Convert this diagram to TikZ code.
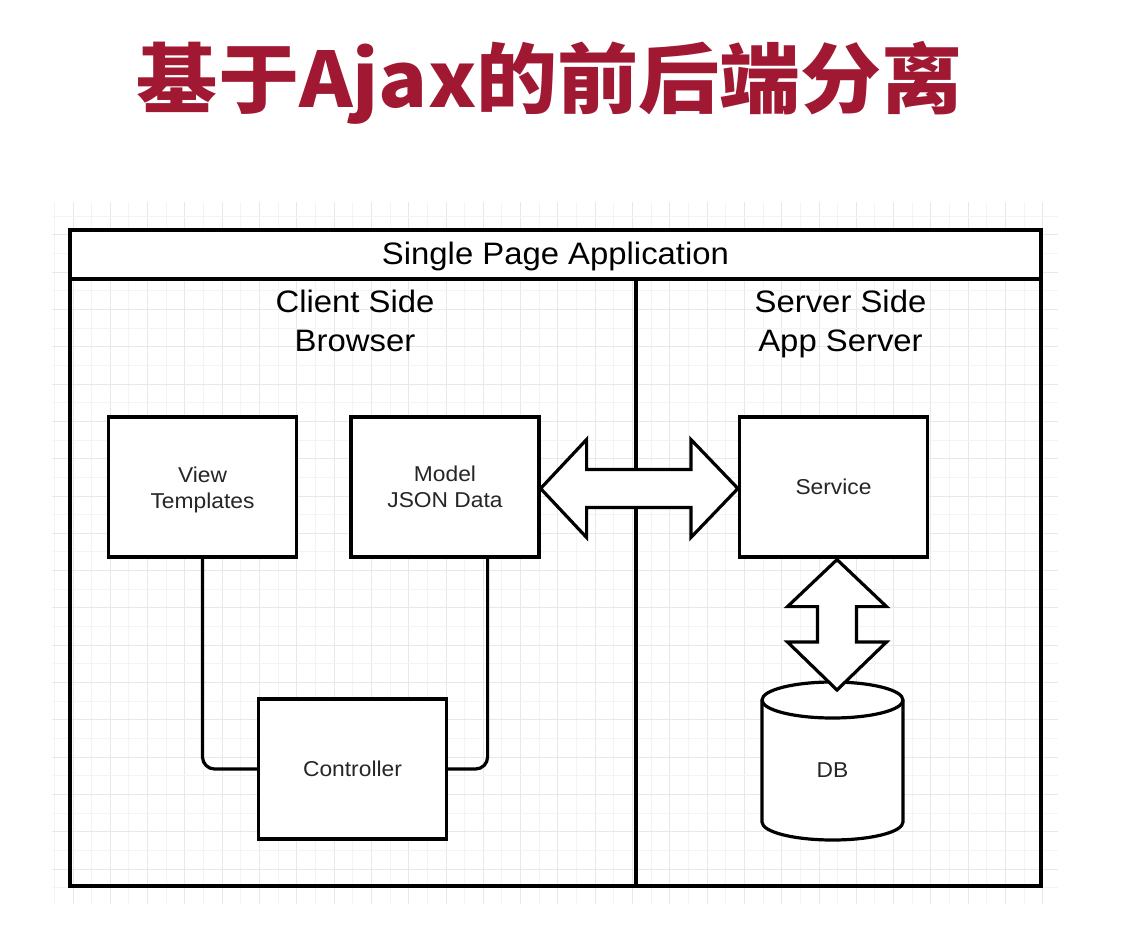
\documentclass[tikz,border=0pt]{standalone}
\usepackage{fontspec}
\setmainfont{Liberation Sans}[FakeStretch=1.06]
\newfontfamily\cjk{Noto Sans CJK SC}[FakeStretch=1.06]
\usetikzlibrary{calc}
\definecolor{titlered}{RGB}{160,24,50}
\definecolor{gridmajor}{RGB}{232,232,232}
\definecolor{gridminor}{RGB}{244,244,244}
\begin{document}
\begin{tikzpicture}[x=1pt,y=-1pt,
  box/.style={draw=black, line width=3.2pt, fill=white, minimum width=188pt, minimum height=140pt,
    inner sep=0pt, align=center, font=\fontsize{21.5}{26}\selectfont, text=black!85},
  heading/.style={align=center, inner sep=0pt, font=\fontsize{31}{38.5}\selectfont},
  conn/.style={line width=3.2pt, rounded corners=12pt},
  fat/.style={draw=black, line width=3.2pt, fill=white, line join=miter},
  frame/.style={line width=3.5pt},
  gmaj/.style={draw=gridmajor, line width=1pt},
  gmin/.style={draw=gridminor, line width=1pt}]
\fill[white] (0,0) rectangle (1124,939);
\useasboundingbox (0,0) rectangle (1124,939);

% grid
\foreach \i in {-1,...,52}{
  \pgfmathtruncatemacro\m{mod(\i+2,2)}
  \pgfmathsetmacro\xx{73+18.65*\i}
  \ifnum\m=0 \draw[gmaj] (\xx,202) -- (\xx,904); \else \draw[gmin] (\xx,202) -- (\xx,904); \fi
}
\foreach \k in {-1,...,35}{
  \pgfmathtruncatemacro\m{mod(\k+2,2)}
  \pgfmathsetmacro\yy{869-18.65*\k}
  \ifnum\m=0 \draw[gmaj] (52,\yy) -- (1058,\yy); \else \draw[gmin] (52,\yy) -- (1058,\yy); \fi
}

% title
\node[font=\cjk\bfseries\fontsize{76.5}{80}\selectfont, text=titlered, inner sep=0pt] (title) at (550,83) {基于Ajax的前后端分离};

% frame
\coordinate (tl) at (70,230);
\coordinate (br) at (1041,886);
\node[draw, line width=3.5pt, fill=white, minimum width=971pt, minimum height=49pt, anchor=north west,
  inner sep=0pt, outer sep=0pt, text height=22.6pt, text depth=2pt,
  font=\fontsize{31}{36}\selectfont] (header) at (tl) {Single Page Application};
\draw[frame] (tl) rectangle (br);
\coordinate (divtop) at (636,279);
\coordinate (divbot) at (636,886);
\draw[frame] (divtop) -- (divbot);

% headings
\node[heading, anchor=north] (client) at (355,290) {Client Side\\Browser};
\node[heading, anchor=north] (server) at (840.5,290) {Server Side\\App Server};

% boxes
\node[box] (view) at (202.5,487) {\rule{0pt}{22pt}View\\Templates};
\node[box] (model) at (445,487) {Model\\JSON Data};
\node[box] (service) at (833.5,487) {Service};
\node[box] (ctrl) at (352.5,769) {Controller};

% connectors
\draw[conn] (view.south) |- (ctrl.west);
\draw[conn] ($(model.south east)+(-53,0)$) |- (ctrl.east);

% database cylinder
\node[minimum width=141pt, minimum height=158pt, inner sep=0pt, outer sep=0pt] (db) at (832.5,761) {};
\draw[fat] ($(db.north west)+(0,18)$) -- ($(db.south west)+(0,-18)$)
  arc[start angle=180, end angle=0, x radius=70.5, y radius=18]
  -- ($(db.north east)+(0,18)$)
  arc[start angle=0, end angle=-180, x radius=70.5, y radius=18] -- cycle;
\draw[line width=3.2pt] ($(db.north west)+(0,18)$) arc[start angle=180, end angle=0, x radius=70.5, y radius=18];
\node[inner sep=0pt, font=\fontsize{21.5}{26}\selectfont, text=black!85] (dblabel) at ($(db.center)+(0,9)$) {DB};

% horizontal double arrow (model <-> service)
\coordinate (hl) at ($(model.east)+(0,1.5)$);
\coordinate (hr) at ($(service.west)+(0,1.5)$);
\draw[fat] (hl) -- ++(46,-49) -- ++(0,30) -- ($(hr)+(-47,-19)$) -- ++(0,-30) -- (hr)
  -- ++(-47,49) -- ++(0,-30) -- ($(hl)+(46,19)$) -- ++(0,30) -- cycle;

% vertical double arrow (service <-> db)
\coordinate (vt) at ($(service.south)+(3.5,1)$);
\coordinate (vb) at ($(db.north)+(4.5,8)$);
\draw[fat] (vt) -- ++(49.5,47) -- ++(-30,0) -- ($(vb)+(19.5,-48)$) -- ++(30,0) -- (vb)
  -- ++(-49.5,-48) -- ++(30,0) -- ($(vt)+(-19.5,47)$) -- ++(-30,0) -- cycle;
\end{tikzpicture}
\end{document}
